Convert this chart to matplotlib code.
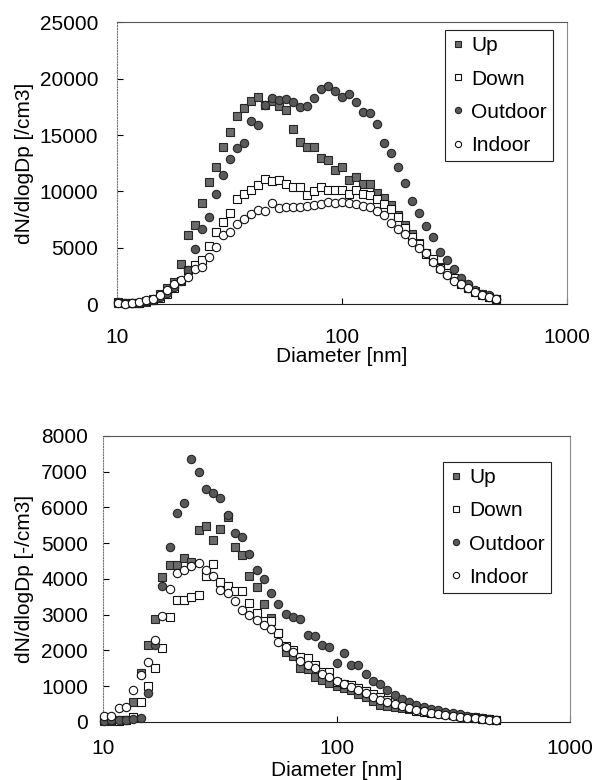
"""Particle number size distributions: Up / Down / Outdoor / Indoor (two cases)."""

import matplotlib
matplotlib.use("Agg")
import matplotlib.pyplot as plt
from matplotlib.ticker import NullLocator

plt.rcParams["font.family"] = ["Liberation Sans", "DejaVu Sans"]

# SMPS channel mid-point diameters [nm]
diameter_nm = [
    10.1, 10.85, 11.66, 12.52, 13.45, 14.45, 15.52, 16.67, 17.91, 19.24,
    20.67, 22.2, 23.85, 25.62, 27.53, 29.57, 31.76, 34.12, 36.65, 39.37,
    42.3, 45.44, 48.81, 52.43, 56.33, 60.51, 65.0, 69.82, 75.0, 80.57,
    86.55, 92.98, 99.88, 107.3, 115.3, 123.8, 133.0, 142.9, 153.5, 164.9,
    177.2, 190.3, 204.5, 219.6, 235.9, 253.4, 272.3, 292.4, 314.1, 337.5,
    362.5, 389.4, 418.3, 449.4, 482.7,
]

# upper panel, dN/dlogDp [/cm3]
top_up = [
    150, 100, 80, 100, 200, 500, 900, 1400, 2000, 3600,
    6100, 7000, 9000, 10800, 12200, 13900, 15300, 16700, 17400, 18000,
    18400, 17700, 18000, 17600, 17200, 15500, 14400, 13900, 13900, 13000,
    12800, 11900, 12200, 11000, 11300, 10700, 10650, 9900, 9400, 8800,
    7900, 7000, 6250, 5400, 4500, 3800, 3300, 2800, 2300, 1900,
    1500, 1150, 900, 650, 450,
]
top_down = [
    200, 150, 100, 150, 250, 400, 550, 900, 1400, 2100,
    3000, 3500, 3900, 5200, 6400, 7300, 8100, 9300, 9800, 10100,
    10600, 11100, 10900, 11000, 10700, 10400, 10400, 9700, 10000, 10400,
    10100, 10100, 10100, 9800, 10100, 9800, 9700, 9300, 8900, 8400,
    7700, 6800, 6000, 5300, 4450, 4000, 3200, 2750, 2300, 1800,
    1450, 1100, 850, 600, 450,
]
top_outdoor = [
    200, 150, 100, 150, 250, 400, 600, 1000, 1500, 2100,
    3000, 4850, 6650, 7740, 9750, 11440, 12830, 13860, 14300, 16250,
    15870, 17640, 18290, 18080, 18230, 17930, 17490, 17550, 18290, 19120,
    19330, 18900, 18350, 18630, 17940, 17070, 16930, 15980, 14320, 13450,
    12170, 10790, 9160, 8130, 6940, 5970, 4640, 3900, 3100, 2280,
    1780, 1240, 940, 800, 500,
]
top_indoor = [
    150, 60, 120, 210, 350, 500, 800, 1300, 1800, 2130,
    2420, 3160, 3300, 4180, 5070, 6100, 6400, 7140, 7580, 7970,
    8320, 8300, 8940, 8560, 8590, 8590, 8590, 8740, 8800, 8890,
    9040, 9000, 9100, 9000, 8850, 8700, 8600, 8300, 7900, 7200,
    6700, 6200, 5500, 5000, 4500, 3750, 3100, 2600, 2100, 1800,
    1400, 1050, 800, 600, 420,
]

# lower panel, dN/dlogDp [-/cm3]
bottom_up = [
    30, 40, 50, 60, 550, 1380, 2150, 2870, 4060, 4380,
    4380, 4580, 4480, 5380, 5470, 5080, 5400, 5720, 4900, 4660,
    4080, 3780, 3300, 2900, 2500, 1960, 1840, 1520, 1470, 1260,
    1170, 1090, 1000, 950, 900, 780, 700, 600, 480, 460,
    430, 400, 370, 340, 310, 280, 260, 230, 200, 180,
    150, 130, 110, 90, 60,
]
bottom_down = [
    60, 50, 40, 50, 150, 560, 1000, 1520, 2080, 2930,
    3420, 3420, 3490, 3540, 4080, 4420, 3920, 3800, 3650, 3650,
    3330, 3050, 2830, 2830, 2500, 2120, 2020, 1820, 1790, 1600,
    1410, 1390, 1130, 1050, 1030, 960, 880, 780, 700, 620,
    560, 480, 400, 300, 280, 250, 240, 220, 200, 170,
    140, 110, 90, 70, 50,
]
bottom_outdoor = [
    40, 50, 50, 60, 80, 100, 800, 2150, 3800, 4880,
    5840, 6120, 7360, 7000, 6510, 6400, 6260, 5800, 5280, 5160,
    4700, 4250, 4000, 3600, 3300, 3020, 2930, 2880, 2440, 2400,
    2150, 2100, 1650, 1930, 1600, 1600, 1340, 1150, 1050, 900,
    750, 650, 560, 480, 420, 370, 330, 290, 250, 210,
    180, 150, 120, 90, 60,
]
bottom_indoor = [
    170, 170, 380, 430, 890, 1300, 1680, 2300, 2960, 3730,
    4170, 4260, 4350, 4450, 4250, 4080, 3700, 3600, 3380, 3120,
    3000, 2850, 2720, 2590, 2250, 2100, 1950, 1700, 1600, 1500,
    1350, 1250, 1150, 1050, 980, 900, 800, 700, 620, 560,
    500, 450, 380, 340, 300, 260, 220, 200, 170, 150,
    120, 100, 80, 60, 50,
]

series_names = ["Up", "Down", "Outdoor", "Indoor"]
x_ticks = [10, 100, 1000]
x_tick_labels = ["10", "100", "1000"]

STYLES = {
    "Up": dict(marker="s", ms=5.6, mfc="#6b6b6b", mec="#262626"),
    "Down": dict(marker="s", ms=5.6, mfc="white", mec="#111111"),
    "Outdoor": dict(marker="o", ms=6.0, mfc="#585858", mec="#262626"),
    "Indoor": dict(marker="o", ms=6.0, mfc="white", mec="#111111"),
}
FONT = 15


def draw_panel(ax, values, y_ticks, ylabel, xpad, ypad, xlabel_y, ylabel_x,
               legend_anchor):
    for z, (name, vals) in enumerate(zip(series_names, values)):
        ax.plot(diameter_nm, vals, linestyle="none", mew=0.8, label=name,
                clip_on=False, zorder=3 + z, **STYLES[name])
    ax.set_xscale("log")
    ax.set_xlim(10, 1000)
    ax.set_ylim(y_ticks[0], y_ticks[-1])
    ax.set_xticks(x_ticks, x_tick_labels)
    ax.xaxis.set_minor_locator(NullLocator())
    ax.set_yticks(y_ticks)
    ax.tick_params(axis="x", direction="in", length=4, width=0.8,
                   labelsize=FONT, pad=xpad)
    ax.tick_params(axis="y", direction="in", length=4, width=0.8,
                   labelsize=FONT, pad=ypad)
    ax.set_xlabel("Diameter [nm]", fontsize=FONT)
    ax.xaxis.set_label_coords(0.5, xlabel_y)
    ax.set_ylabel(ylabel, fontsize=FONT)
    ax.yaxis.set_label_coords(ylabel_x, 0.5)

    ax.spines["left"].set_linestyle((0, (1, 1.5)))
    ax.spines["left"].set_color("#777777")
    ax.spines["right"].set_color("#8a8a8a")
    ax.spines["top"].set_color("#555555")
    ax.spines["bottom"].set_color("#222222")
    for spine in ax.spines.values():
        spine.set_linewidth(0.8)

    legend = ax.legend(loc="upper right", bbox_to_anchor=legend_anchor,
                       borderaxespad=0, fontsize=FONT, frameon=True,
                       fancybox=False, framealpha=1, edgecolor="#222222",
                       handlelength=0.6, handletextpad=0.35, borderpad=0.3,
                       labelspacing=0.68, markerscale=0.75)
    legend.get_frame().set_linewidth(0.8)


figure = plt.figure(figsize=(5.93, 7.80), dpi=100)
ax_top = figure.add_axes([0.197, 0.610, 0.759, 0.3615])
ax_bottom = figure.add_axes([0.174, 0.0744, 0.7875, 0.3667])

draw_panel(ax_top, [top_up, top_down, top_outdoor, top_indoor],
           list(range(0, 25001, 5000)), "dN/dlogDp [/cm3]",
           xpad=17, ypad=13.5, xlabel_y=-0.152, ylabel_x=-0.184,
           legend_anchor=(0.969, 0.972))
draw_panel(ax_bottom, [bottom_up, bottom_down, bottom_outdoor, bottom_indoor],
           list(range(0, 8001, 1000)), "dN/dlogDp [-/cm3]",
           xpad=12.5, ypad=10.8, xlabel_y=-0.135, ylabel_x=-0.148,
           legend_anchor=(0.959, 0.909))

figure.savefig("out.png", dpi=100)
